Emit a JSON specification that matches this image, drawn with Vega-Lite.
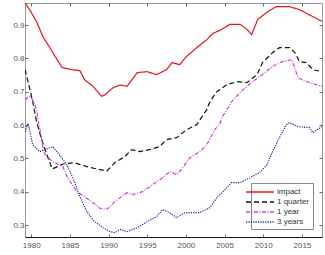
{
  "$schema": "https://vega.github.io/schema/vega-lite/v6.json",
  "width": 297,
  "height": 234,
  "autosize": {"type": "none"},
  "padding": {"left": 25, "top": 3, "right": 3, "bottom": 18},
  "config": {
    "font": "Liberation Sans",
    "view": {"stroke": "#999", "strokeWidth": 1},
    "axis": {"grid": false, "title": null, "labelFontSize": 8, "labelColor": "#555", "tickColor": "#666", "tickSize": -3, "domain": false}
  },
  "data": {"values": [
    {"s":"impact","year":1979.2,"v":0.966},{"s":"impact","year":1979.8,"v":0.946},{"s":"impact","year":1980.7,"v":0.91},{"s":"impact","year":1981.5,"v":0.866},{"s":"impact","year":1982.8,"v":0.817},{"s":"impact","year":1984.0,"v":0.772},{"s":"impact","year":1985.3,"v":0.766},{"s":"impact","year":1986.3,"v":0.763},{"s":"impact","year":1986.9,"v":0.736},{"s":"impact","year":1988.0,"v":0.716},{"s":"impact","year":1989.1,"v":0.686},{"s":"impact","year":1989.5,"v":0.69},{"s":"impact","year":1990.6,"v":0.712},{"s":"impact","year":1991.5,"v":0.72},{"s":"impact","year":1992.4,"v":0.716},{"s":"impact","year":1993.7,"v":0.757},{"s":"impact","year":1995.0,"v":0.76},{"s":"impact","year":1996.2,"v":0.751},{"s":"impact","year":1997.5,"v":0.766},{"s":"impact","year":1998.2,"v":0.787},{"s":"impact","year":1999.2,"v":0.781},{"s":"impact","year":2000.1,"v":0.806},{"s":"impact","year":2001.4,"v":0.832},{"s":"impact","year":2002.7,"v":0.856},{"s":"impact","year":2003.5,"v":0.875},{"s":"impact","year":2004.4,"v":0.884},{"s":"impact","year":2005.7,"v":0.902},{"s":"impact","year":2007.0,"v":0.902},{"s":"impact","year":2007.9,"v":0.887},{"s":"impact","year":2008.5,"v":0.871},{"s":"impact","year":2009.3,"v":0.917},{"s":"impact","year":2010.6,"v":0.94},{"s":"impact","year":2011.7,"v":0.955},{"s":"impact","year":2013.4,"v":0.955},{"s":"impact","year":2014.7,"v":0.946},{"s":"impact","year":2016.0,"v":0.93},{"s":"impact","year":2017.6,"v":0.911},

    {"s":"1 quarter","year":1979.2,"v":0.766},{"s":"1 quarter","year":1979.7,"v":0.72},{"s":"1 quarter","year":1980.2,"v":0.67},{"s":"1 quarter","year":1980.7,"v":0.61},{"s":"1 quarter","year":1981.3,"v":0.56},{"s":"1 quarter","year":1981.9,"v":0.52},{"s":"1 quarter","year":1982.7,"v":0.468},{"s":"1 quarter","year":1983.4,"v":0.475},{"s":"1 quarter","year":1984.1,"v":0.483},{"s":"1 quarter","year":1985.6,"v":0.487},{"s":"1 quarter","year":1987.2,"v":0.475},{"s":"1 quarter","year":1988.9,"v":0.466},{"s":"1 quarter","year":1989.8,"v":0.462},{"s":"1 quarter","year":1990.8,"v":0.487},{"s":"1 quarter","year":1992.1,"v":0.505},{"s":"1 quarter","year":1993.0,"v":0.526},{"s":"1 quarter","year":1994.0,"v":0.52},{"s":"1 quarter","year":1995.3,"v":0.526},{"s":"1 quarter","year":1996.6,"v":0.535},{"s":"1 quarter","year":1997.5,"v":0.556},{"s":"1 quarter","year":1998.8,"v":0.562},{"s":"1 quarter","year":2000.1,"v":0.586},{"s":"1 quarter","year":2001.4,"v":0.601},{"s":"1 quarter","year":2002.7,"v":0.646},{"s":"1 quarter","year":2003.1,"v":0.67},{"s":"1 quarter","year":2004.0,"v":0.70},{"s":"1 quarter","year":2005.3,"v":0.721},{"s":"1 quarter","year":2006.6,"v":0.73},{"s":"1 quarter","year":2007.9,"v":0.727},{"s":"1 quarter","year":2009.2,"v":0.751},{"s":"1 quarter","year":2009.9,"v":0.787},{"s":"1 quarter","year":2011.2,"v":0.817},{"s":"1 quarter","year":2012.1,"v":0.832},{"s":"1 quarter","year":2013.4,"v":0.832},{"s":"1 quarter","year":2014.1,"v":0.817},{"s":"1 quarter","year":2014.7,"v":0.79},{"s":"1 quarter","year":2015.6,"v":0.787},{"s":"1 quarter","year":2016.4,"v":0.766},{"s":"1 quarter","year":2017.6,"v":0.76},

    {"s":"1 year","year":1979.2,"v":0.676},{"s":"1 year","year":1979.8,"v":0.686},{"s":"1 year","year":1980.2,"v":0.676},{"s":"1 year","year":1980.7,"v":0.646},{"s":"1 year","year":1981.0,"v":0.60},{"s":"1 year","year":1981.3,"v":0.565},{"s":"1 year","year":1981.6,"v":0.52},{"s":"1 year","year":1982.0,"v":0.505},{"s":"1 year","year":1982.8,"v":0.49},{"s":"1 year","year":1984.1,"v":0.475},{"s":"1 year","year":1984.7,"v":0.442},{"s":"1 year","year":1985.9,"v":0.40},{"s":"1 year","year":1986.9,"v":0.385},{"s":"1 year","year":1988.0,"v":0.367},{"s":"1 year","year":1988.9,"v":0.35},{"s":"1 year","year":1989.8,"v":0.348},{"s":"1 year","year":1990.2,"v":0.355},{"s":"1 year","year":1990.8,"v":0.37},{"s":"1 year","year":1991.7,"v":0.385},{"s":"1 year","year":1992.4,"v":0.397},{"s":"1 year","year":1993.1,"v":0.391},{"s":"1 year","year":1994.4,"v":0.40},{"s":"1 year","year":1995.7,"v":0.421},{"s":"1 year","year":1997.0,"v":0.442},{"s":"1 year","year":1997.9,"v":0.46},{"s":"1 year","year":1998.8,"v":0.451},{"s":"1 year","year":1999.6,"v":0.472},{"s":"1 year","year":2000.5,"v":0.502},{"s":"1 year","year":2001.8,"v":0.52},{"s":"1 year","year":2002.7,"v":0.541},{"s":"1 year","year":2003.7,"v":0.585},{"s":"1 year","year":2004.4,"v":0.605},{"s":"1 year","year":2004.8,"v":0.628},{"s":"1 year","year":2006.1,"v":0.676},{"s":"1 year","year":2007.4,"v":0.706},{"s":"1 year","year":2008.6,"v":0.73},{"s":"1 year","year":2009.9,"v":0.751},{"s":"1 year","year":2011.2,"v":0.776},{"s":"1 year","year":2012.5,"v":0.79},{"s":"1 year","year":2013.7,"v":0.796},{"s":"1 year","year":2014.5,"v":0.742},{"s":"1 year","year":2015.6,"v":0.73},{"s":"1 year","year":2016.9,"v":0.721},{"s":"1 year","year":2017.6,"v":0.716},

    {"s":"3 years","year":1979.2,"v":0.58},{"s":"3 years","year":1979.6,"v":0.605},{"s":"3 years","year":1980.2,"v":0.541},{"s":"3 years","year":1981.1,"v":0.52},{"s":"3 years","year":1982.2,"v":0.53},{"s":"3 years","year":1982.8,"v":0.535},{"s":"3 years","year":1984.0,"v":0.50},{"s":"3 years","year":1984.6,"v":0.481},{"s":"3 years","year":1985.6,"v":0.43},{"s":"3 years","year":1986.3,"v":0.385},{"s":"3 years","year":1987.2,"v":0.34},{"s":"3 years","year":1988.2,"v":0.31},{"s":"3 years","year":1989.3,"v":0.292},{"s":"3 years","year":1990.2,"v":0.28},{"s":"3 years","year":1990.8,"v":0.277},{"s":"3 years","year":1991.5,"v":0.286},{"s":"3 years","year":1992.4,"v":0.28},{"s":"3 years","year":1993.7,"v":0.292},{"s":"3 years","year":1995.0,"v":0.31},{"s":"3 years","year":1996.2,"v":0.325},{"s":"3 years","year":1997.0,"v":0.346},{"s":"3 years","year":1997.9,"v":0.337},{"s":"3 years","year":1998.8,"v":0.322},{"s":"3 years","year":1999.9,"v":0.337},{"s":"3 years","year":2000.8,"v":0.337},{"s":"3 years","year":2001.8,"v":0.337},{"s":"3 years","year":2003.1,"v":0.352},{"s":"3 years","year":2004.1,"v":0.385},{"s":"3 years","year":2004.8,"v":0.40},{"s":"3 years","year":2005.9,"v":0.427},{"s":"3 years","year":2007.0,"v":0.427},{"s":"3 years","year":2008.3,"v":0.442},{"s":"3 years","year":2009.5,"v":0.457},{"s":"3 years","year":2010.5,"v":0.481},{"s":"3 years","year":2011.2,"v":0.52},{"s":"3 years","year":2012.1,"v":0.562},{"s":"3 years","year":2013.0,"v":0.601},{"s":"3 years","year":2013.4,"v":0.607},{"s":"3 years","year":2014.5,"v":0.595},{"s":"3 years","year":2016.0,"v":0.592},{"s":"3 years","year":2016.4,"v":0.577},{"s":"3 years","year":2017.6,"v":0.595}
  ]},
  "resolve": {"axis": {"x": "independent", "y": "independent"}},
  "layer": [
    {
      "mark": {"type": "line", "clip": true, "strokeWidth": 1.2},
      "encoding": {
        "x": {"field": "year", "type": "quantitative", "scale": {"domain": [1979.2, 2017.6], "nice": false, "zero": false},
              "axis": {"orient": "bottom", "values": [1980,1985,1990,1995,2000,2005,2010,2015], "format": "d", "labelPadding": 7, "domain": true, "domainColor": "#111", "domainWidth": 1.2}},
        "y": {"field": "v", "type": "quantitative", "scale": {"domain": [0.264, 0.966], "nice": false, "zero": false},
              "axis": {"orient": "left", "values": [0.3,0.4,0.5,0.6,0.7,0.8,0.9], "format": ".1f", "labelPadding": 4}},
        "color": {"field": "s", "type": "nominal",
                  "scale": {"domain": ["impact","1 quarter","1 year","3 years"], "range": ["#e8141c","#111111","#d63bd8","#22229a"]},
                  "legend": {"title": null, "orient": "none", "legendX": 226, "legendY": 180, "symbolType": "M-2.8,0H2.8", "symbolSize": 100, "symbolStrokeWidth": 1.5, "labelFontSize": 8, "labelColor": "#333", "strokeColor": "#888", "fillColor": "white", "padding": 3, "rowPadding": 0, "labelOffset": 11}},
        "strokeDash": {"field": "s", "type": "nominal",
                  "scale": {"domain": ["impact","1 quarter","1 year","3 years"], "range": [[1,0],[5,3],[4,1.5,1,1.5],[1.2,1.2]]},
                  "legend": null},
        "detail": {"field": "s"}
      }
    },
    {
      "mark": {"type": "line", "opacity": 0},
      "encoding": {
        "x": {"field": "year", "type": "quantitative", "axis": {"orient": "top", "values": [1980,1985,1990,1995,2000,2005,2010,2015], "labels": false}},
        "y": {"field": "v", "type": "quantitative", "axis": {"orient": "right", "values": [0.3,0.4,0.5,0.6,0.7,0.8,0.9], "labels": false}},
        "detail": {"field": "s"}
      }
    }
  ]
}
